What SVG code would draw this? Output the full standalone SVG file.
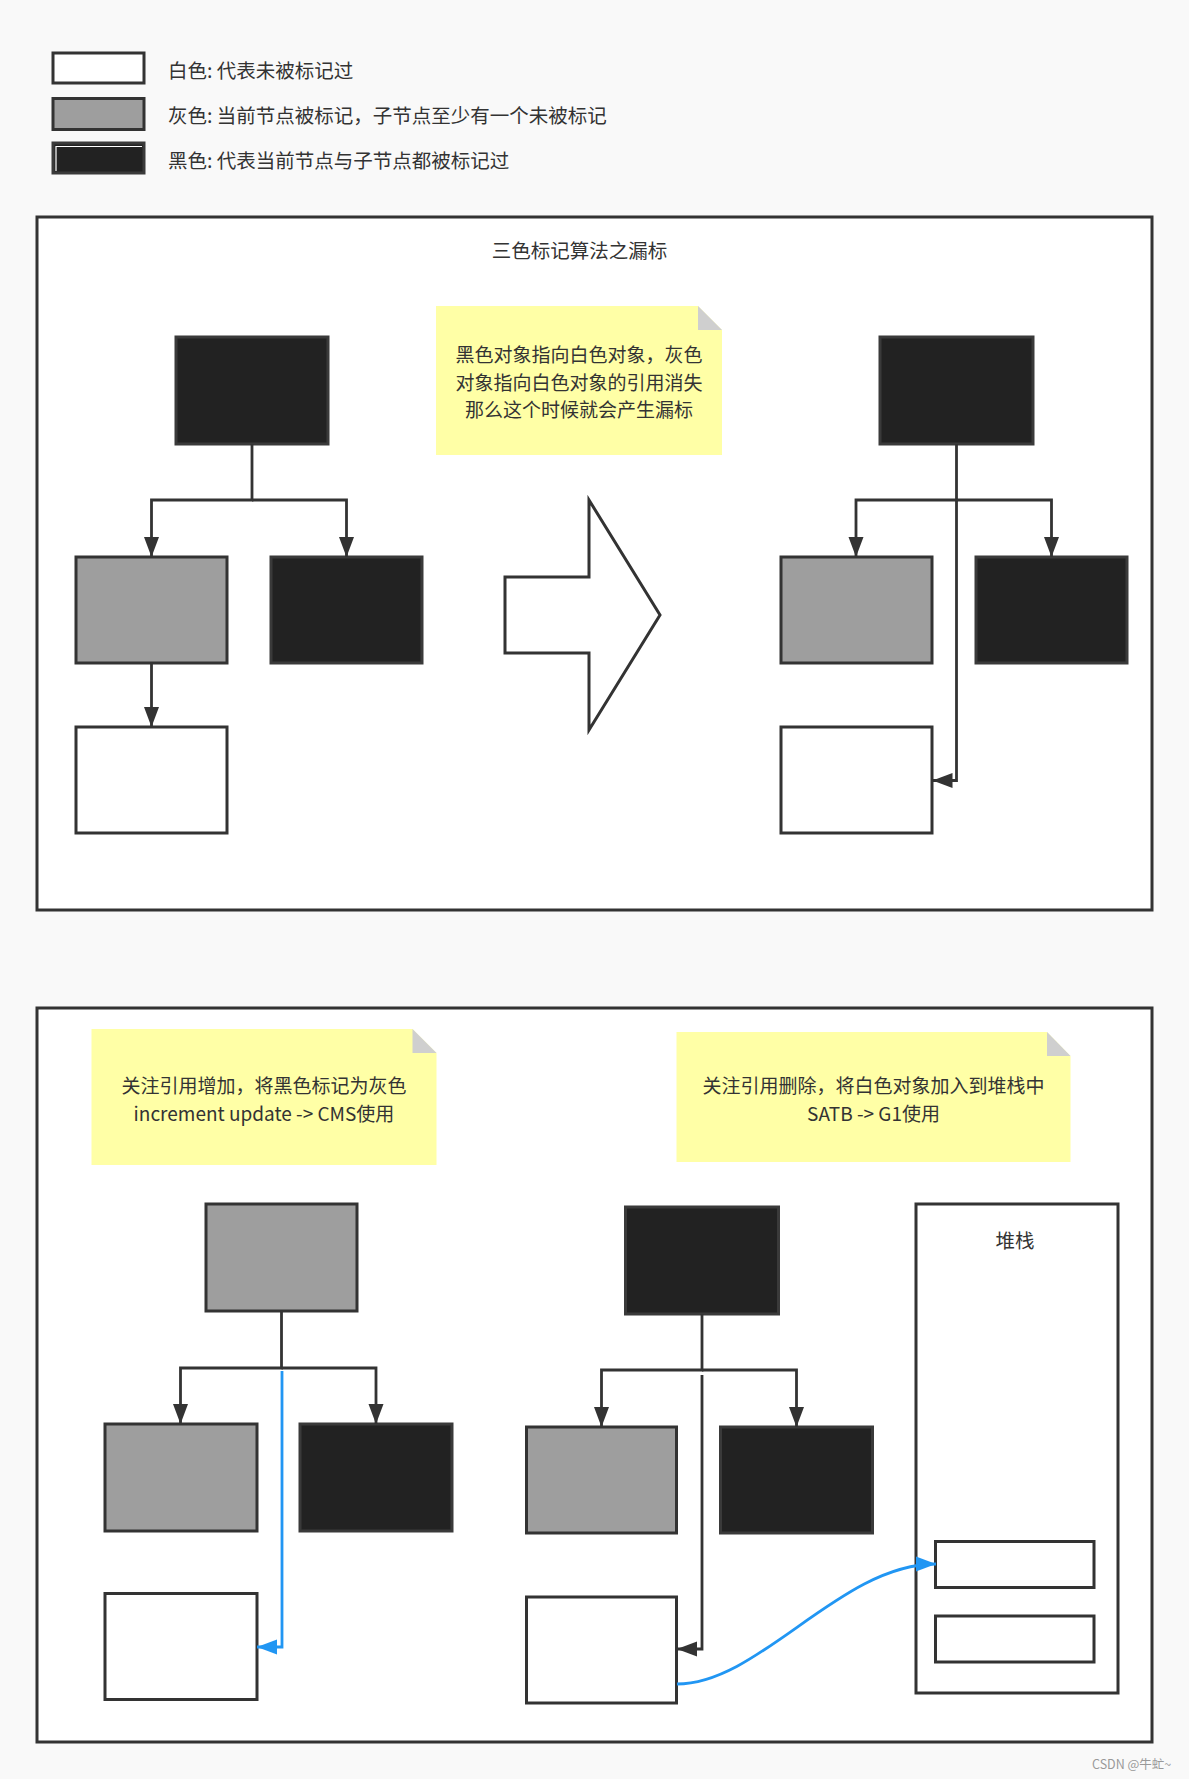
<svg xmlns="http://www.w3.org/2000/svg" width="1189" height="1779" viewBox="0 0 1189 1779">
<defs>
<style>
text{font-family:"Noto Sans CJK SC","Noto Sans",sans-serif;fill:#333;font-size:19.5px;dominant-baseline:central}
.c{text-anchor:middle}
.nt{font-size:19px}
.frame{fill:#fff;stroke:#333;stroke-width:3}
.w{fill:#fff;stroke:#333;stroke-width:3}
.g{fill:#9e9e9e;stroke:#333;stroke-width:3}
.b{fill:#222;stroke:#3a3a3a;stroke-width:3}
.note{fill:#ffffa6}
.fold{fill:#cfcfcf}
.edge{fill:none;stroke:#333;stroke-width:2.8}
.blue{fill:none;stroke:#2196f3;stroke-width:2.8}
</style>
<marker id="ah" markerUnits="userSpaceOnUse" markerWidth="20" markerHeight="15" refX="20" refY="7.5" orient="auto" overflow="visible">
<path d="M0,0 L20,7.5 L0,15 Z" fill="#333"/>
</marker>
<marker id="ahb" markerUnits="userSpaceOnUse" markerWidth="20" markerHeight="15" refX="20" refY="7.5" orient="auto" overflow="visible">
<path d="M0,0 L20,7.5 L0,15 Z" fill="#2196f3"/>
</marker>
</defs>
<rect x="0" y="0" width="1189" height="1779" fill="#f9f9f9"/>

<g id="legend">
<rect class="w" x="53" y="53" width="91" height="30"/>
<text x="168" y="69">白色: 代表未被标记过</text>
<rect class="g" x="53" y="98.5" width="91" height="31"/>
<text x="168" y="114.5">灰色: 当前节点被标记，子节点至少有一个未被标记</text>
<rect class="b" x="53" y="143" width="91" height="30"/>
<polyline points="56,171 56,146.5 142,146.5" fill="none" stroke="#fff" stroke-width="1.2"/>
<text x="168" y="159.5">黑色: 代表当前节点与子节点都被标记过</text>
</g>

<g id="section1">
<rect class="frame" x="37" y="217" width="1115" height="693"/>
<text class="c" x="579.5" y="249">三色标记算法之漏标</text>
</g>

<g id="note1">
<path class="note" d="M436,306 H698 L722,330 V455 H436 Z"/>
<path class="fold" d="M698,306 L722,330 H698 Z"/>
<text class="c nt" x="579" y="353.4">黑色对象指向白色对象，灰色</text>
<text class="c nt" x="579" y="381">对象指向白色对象的引用消失</text>
<text class="c nt" x="579" y="408.6">那么这个时候就会产生漏标</text>
</g>

<g id="bigArrow">
<polygon points="505,577 589,577 589,500 660,615 589,730 589,653 505,653" fill="#fff" stroke="#333" stroke-width="3"/>
</g>

<g id="L1-black-top"><rect class="b" x="176" y="337" width="152" height="107"/></g>
<g id="L1-gray"><rect class="g" x="76" y="557" width="151" height="106"/></g>
<g id="L1-black"><rect class="b" x="271" y="557" width="151" height="106"/></g>
<g id="L1-white"><rect class="w" x="76" y="727" width="151" height="106"/></g>

<g id="R1-black-top"><rect class="b" x="880" y="337" width="153" height="107"/></g>
<g id="R1-gray"><rect class="g" x="781" y="557" width="151" height="106"/></g>
<g id="R1-black"><rect class="b" x="976" y="557" width="151" height="106"/></g>
<g id="R1-white"><rect class="w" x="781" y="727" width="151" height="106"/></g>

<g id="section2">
<rect class="frame" x="37" y="1008" width="1115" height="734"/>
</g>

<g id="note2">
<path class="note" d="M91.5,1029 H412.5 L436.5,1053 V1165 H91.5 Z"/>
<path class="fold" d="M412.5,1029 L436.5,1053 H412.5 Z"/>
<text class="c nt" x="264" y="1084.7">关注引用增加，将黑色标记为灰色</text>
<text class="c nt" x="264" y="1112.3">increment update -&gt; CMS使用</text>
</g>

<g id="note3">
<path class="note" d="M676.5,1032 H1047 L1070.5,1056 V1162 H676.5 Z"/>
<path class="fold" d="M1047,1032 L1070.5,1056 H1047 Z"/>
<text class="c nt" x="873.5" y="1084.7">关注引用删除，将白色对象加入到堆栈中</text>
<text class="c nt" x="873.5" y="1112.3">SATB -&gt; G1使用</text>
</g>

<g id="L2-gray-top"><rect class="g" x="206" y="1204" width="151" height="107"/></g>
<g id="L2-gray"><rect class="g" x="105" y="1424" width="152" height="107"/></g>
<g id="L2-black"><rect class="b" x="300" y="1424" width="152" height="107"/></g>
<g id="L2-white"><rect class="w" x="105" y="1593.5" width="152" height="106"/></g>

<g id="R2-black-top"><rect class="b" x="625.5" y="1207" width="153" height="107"/></g>
<g id="R2-gray"><rect class="g" x="526.5" y="1427" width="150" height="106"/></g>
<g id="R2-black"><rect class="b" x="720.5" y="1427" width="152" height="106"/></g>
<g id="R2-white"><rect class="w" x="526.5" y="1597" width="150" height="106"/></g>

<g id="stack">
<rect class="w" x="916" y="1204" width="202" height="489"/>
<text class="c" x="1015" y="1239">堆栈</text>
<rect class="w" x="935.5" y="1541.5" width="158.5" height="46"/>
<rect class="w" x="935.5" y="1616" width="158.5" height="46"/>
</g>

<g id="connectors">
<path class="edge" d="M252,444 V500 H151.5 V557" marker-end="url(#ah)"/>
<path class="edge" d="M252,500 H346.5 V557" marker-end="url(#ah)"/>
<path class="edge" d="M151.5,663 V727" marker-end="url(#ah)"/>
<path class="edge" d="M956.5,444 V500 H856 V557" marker-end="url(#ah)"/>
<path class="edge" d="M956.5,500 H1051.5 V557" marker-end="url(#ah)"/>
<path class="edge" d="M956.5,500 V780.5 H932.5" marker-end="url(#ah)"/>
<path class="edge" d="M281.5,1311 V1368 H180.5 V1424" marker-end="url(#ah)"/>
<path class="edge" d="M281.5,1368 H376 V1424" marker-end="url(#ah)"/>
<path class="blue" d="M282,1371 V1647 H257" marker-end="url(#ahb)"/>
<path class="edge" d="M702,1314 V1370 H601.5 V1427" marker-end="url(#ah)"/>
<path class="edge" d="M702,1370 H796.5 V1427" marker-end="url(#ah)"/>
<path class="edge" d="M702,1375 V1649 H677" marker-end="url(#ah)"/>
<path class="blue" d="M677,1684 C760,1684 840,1564 936,1564" marker-end="url(#ahb)"/>
</g>

<text x="1092" y="1763" style="font-size:12.5px;fill:#999">CSDN @牛虻~</text>
</svg>
